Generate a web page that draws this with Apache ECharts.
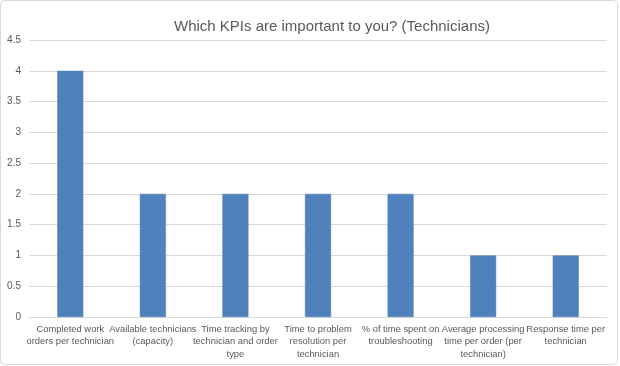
<!DOCTYPE html>
<html>
<head>
<meta charset="utf-8">
<script src="https://cdn.jsdelivr.net/npm/echarts@6/dist/echarts.min.js"></script>
<style>
html,body{margin:0;padding:0;background:#fff;}
#chart{width:620px;height:366px;}
</style>
</head>
<body>
<div id="chart"></div>
<script>
var titleText = 'Which KPIs are important to you? (Technicians)';
var categories = [
  'Completed work\norders per technician',
  'Available technicians\n(capacity)',
  'Time tracking by\ntechnician and order\ntype',
  'Time to problem\nresolution per\ntechnician',
  '% of time spent on\ntroubleshooting',
  'Average processing\ntime per order (per\ntechnician)',
  'Response time per\ntechnician'
];
var values = [4, 2, 2, 2, 2, 1, 1];
var yMin = 0, yMax = 4.5, yStep = 0.5;

var chart = echarts.init(document.getElementById('chart'), null, {renderer: 'canvas'});
var font = '"Liberation Sans", Arial, Helvetica, sans-serif';
chart.setOption({
  animation: false,
  backgroundColor: '#ffffff',
  graphic: [{
    type: 'rect',
    shape: {x: 0.5, y: 0.5, width: 617, height: 364, r: 4},
    style: {fill: 'none', stroke: '#d9d9d9', lineWidth: 1},
    silent: true, z: -1
  }],
  title: {
    text: titleText,
    left: 169,
    top: 14,
    textStyle: {fontFamily: font, fontSize: 15, fontWeight: 'normal', color: '#595959'}
  },
  grid: {left: 29, right: 13, top: 40, bottom: 49, containLabel: false},
  xAxis: {
    type: 'category',
    data: categories,
    axisLine: {show: true, lineStyle: {color: '#d9d9d9', width: 1}},
    axisTick: {show: false},
    axisLabel: {
      interval: 0,
      color: '#595959',
      fontFamily: font,
      fontSize: 9.4,
      lineHeight: 12.5,
      margin: 6
    }
  },
  yAxis: {
    type: 'value',
    min: yMin, max: yMax, interval: yStep,
    axisLine: {show: false},
    axisTick: {show: false},
    splitLine: {lineStyle: {color: '#d9d9d9', width: 1}},
    axisLabel: {
      color: '#595959', fontFamily: font, fontSize: 10, margin: 8,
      formatter: function (v) { return String(v); }
    }
  },
  series: [{
    type: 'bar',
    data: values,
    barWidth: 26,
    itemStyle: {color: '#4f81bd', borderColor: '#4a7ab5', borderWidth: 0.5}
  }]
});
</script>
</body>
</html>
